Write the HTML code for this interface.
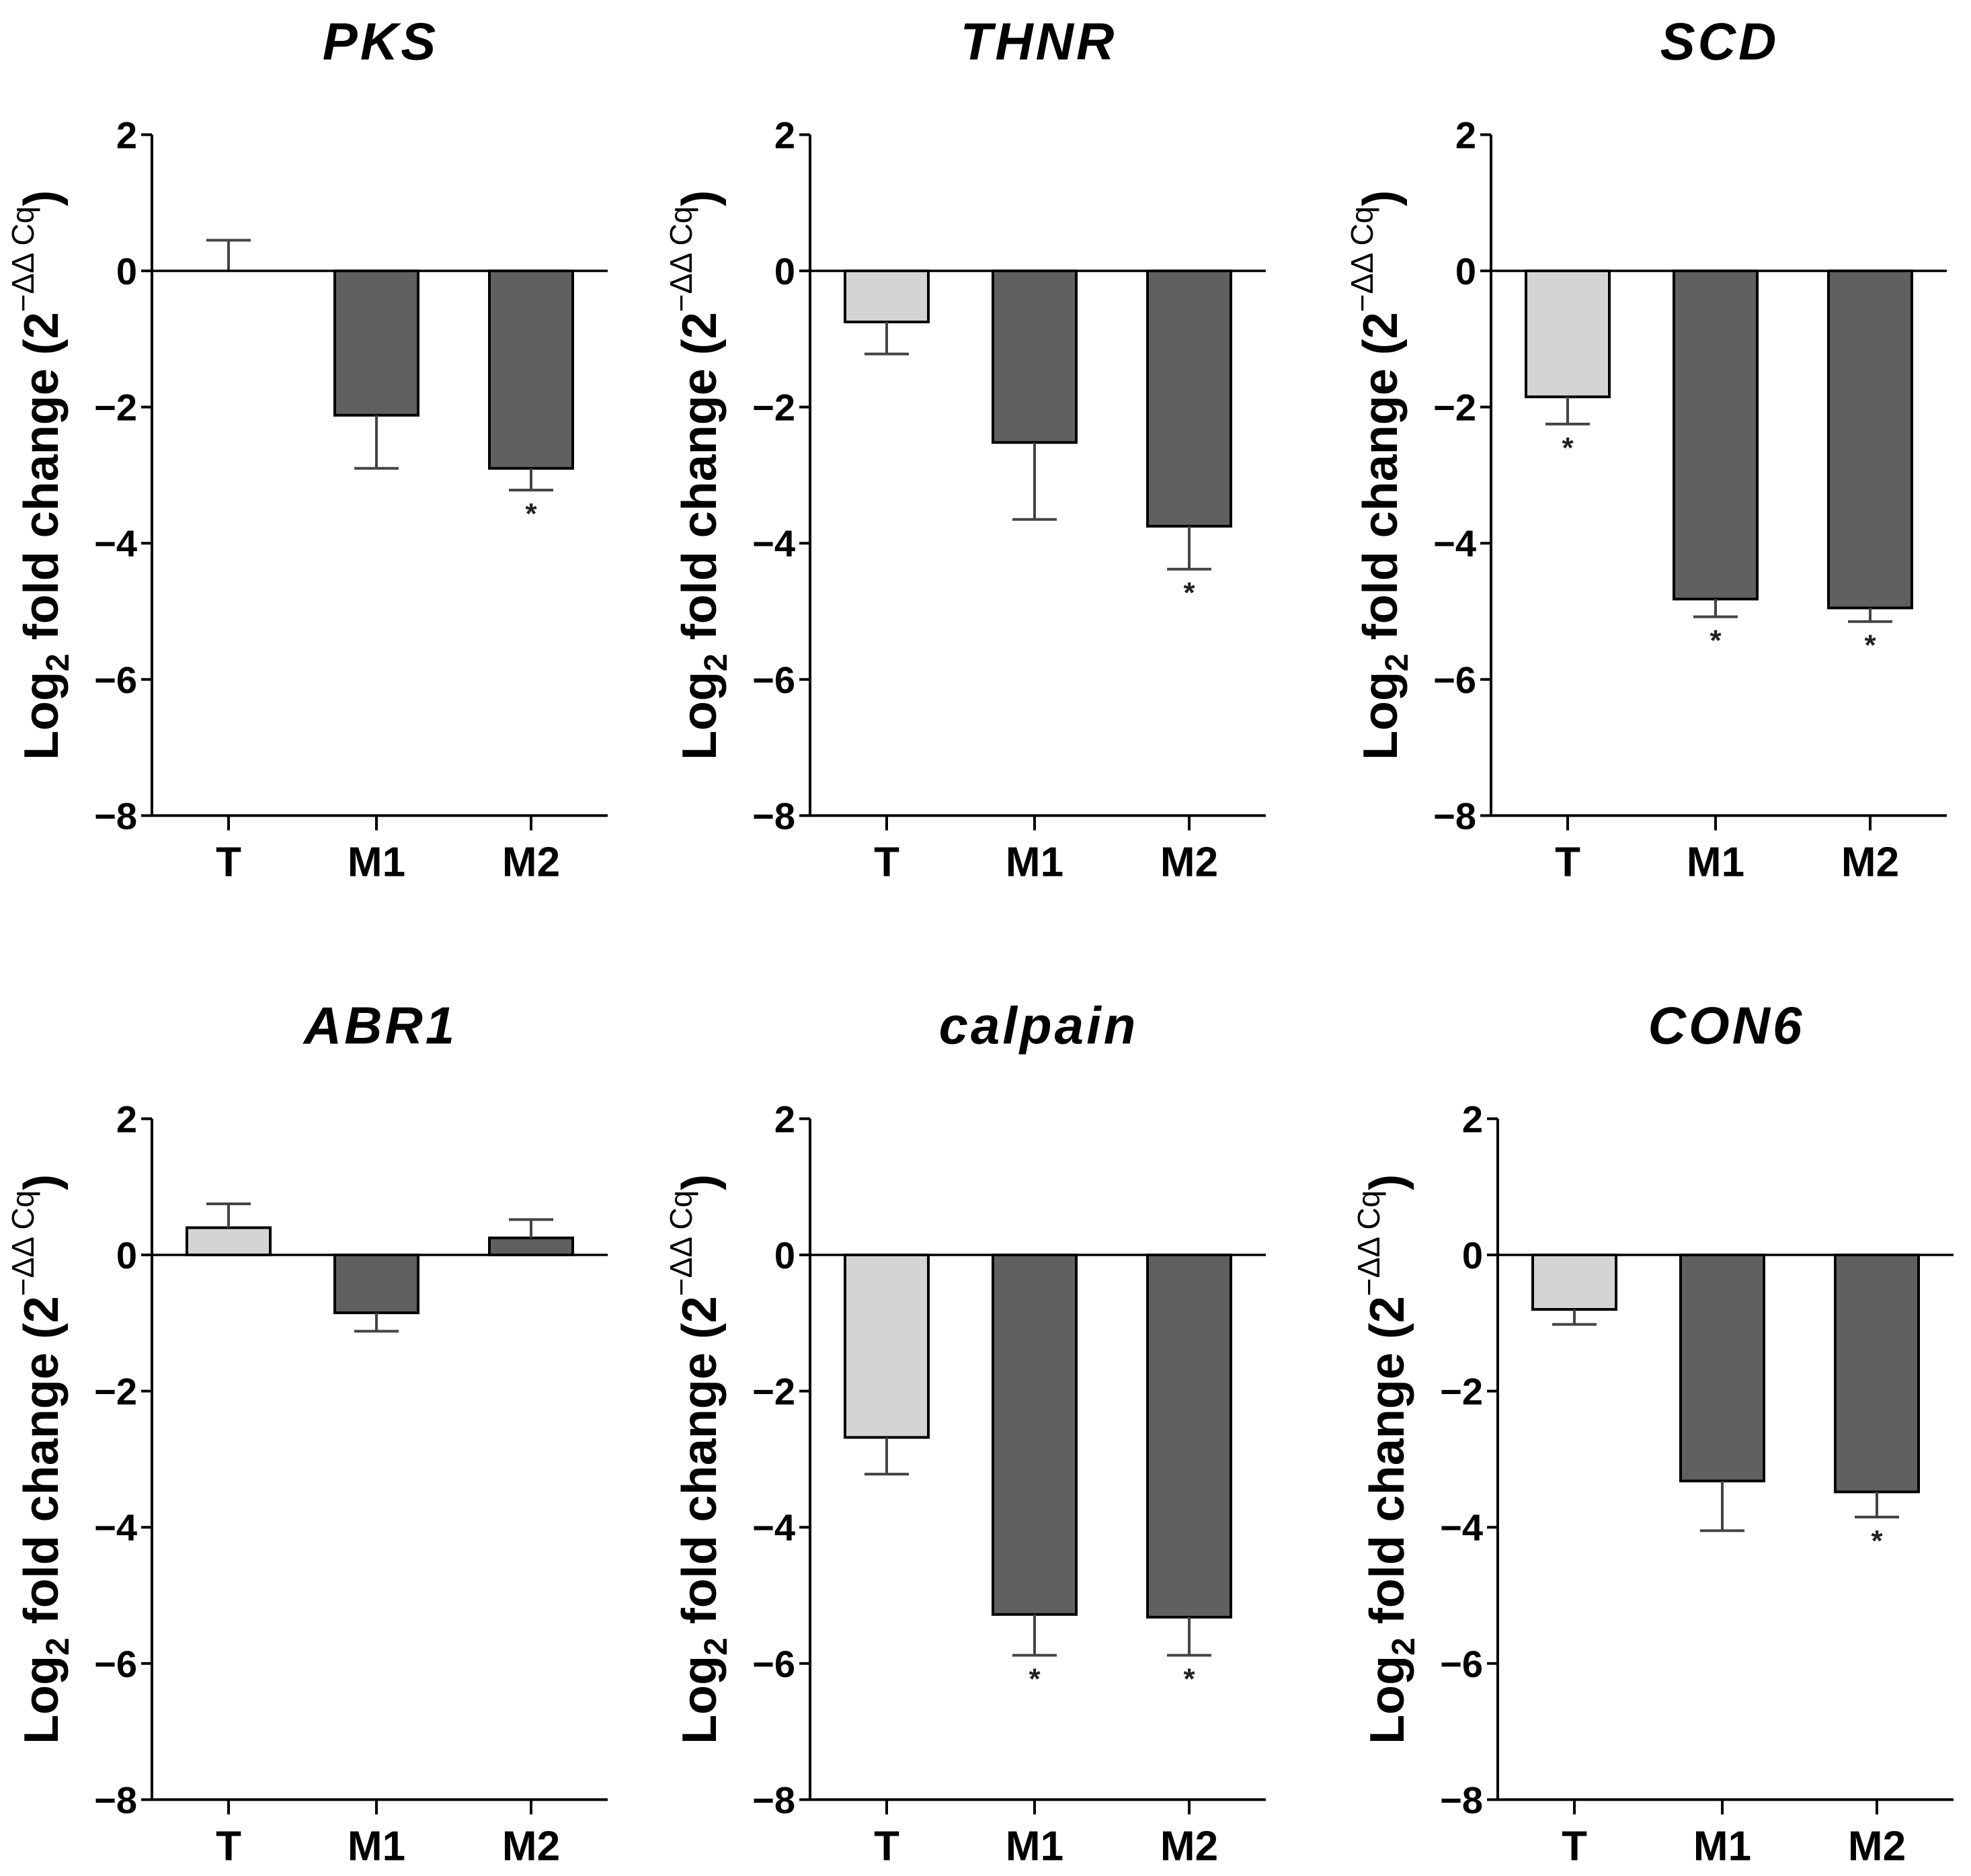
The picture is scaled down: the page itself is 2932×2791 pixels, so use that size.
<!DOCTYPE html>
<html><head><meta charset="utf-8">
<style>
html,body{margin:0;padding:0;background:#fff;}
svg{display:block;font-family:"Liberation Sans",Arial,sans-serif;}
</style></head>
<body>
<svg id="fig" width="2932" height="2791" viewBox="0 0 2932 2791" xmlns="http://www.w3.org/2000/svg"></svg>
<script>
const genes = ["PKS","THNR","SCD","ABR1","calpain","CON6"];
const categories = ["T","M1","M2"];
const means = [
  [0, -2.12, -2.9],
  [-0.75, -2.52, -3.75],
  [-1.85, -4.82, -4.95],
  [0.4, -0.85, 0.25],
  [-2.68, -5.28, -5.32],
  [-0.8, -3.32, -3.48]
];
const errs = [
  [0.45, 0.78, 0.32],
  [0.47, 1.13, 0.63],
  [0.4, 0.26, 0.2],
  [0.35, 0.27, 0.27],
  [0.54, 0.6, 0.56],
  [0.22, 0.73, 0.37]
];
const signif = [
  [false,false,true],
  [false,false,true],
  [true,true,true],
  [false,false,false],
  [false,true,true],
  [false,false,true]
];
const yTicks = [2,0,-2,-4,-6,-8];

const NS = "http://www.w3.org/2000/svg";
const svg = document.getElementById("fig");
function mk(tag, attrs, parent){
  const e = document.createElementNS(NS, tag);
  for (const k in attrs) e.setAttribute(k, attrs[k]);
  (parent||svg).appendChild(e);
  return e;
}
const axisX = [226,1205,2218,226,1205,2228];
const zeroY = [403,403,403,1867,1867,1867];
const unit = 101.3;
const catOff = [114,334,564];
const axisLen = 678;
const barW = 124;
const capW = 66;

genes.forEach((g, p) => {
  const ax = axisX[p], y0 = zeroY[p];
  const yS = v => y0 - v*unit;
  const xS = i => ax + catOff[i];
  const grp = mk("g", {});
  
  
  const t = mk("text", {x: ax+340, y: yS(2)-112, "text-anchor":"middle", "font-size":78, "font-weight":"bold", "font-style":"italic", fill:"#000", "letter-spacing":4}, grp);
  t.textContent = g;
  
  
  const lx = ax - 140, ly = (yS(2)+yS(-8))/2;
  const yl = mk("text", {x: lx, y: ly, transform:`rotate(-90 ${lx} ${ly})`, "text-anchor":"middle", "font-size":72, "font-weight":"bold", fill:"#000"}, grp);
  yl.innerHTML = 'Log<tspan font-size="48" dy="16">2</tspan><tspan dy="-16"> fold change (2</tspan><tspan font-size="46" font-weight="normal" dy="-36">−ΔΔ Cq</tspan><tspan dy="36">)</tspan>';
  
  
  categories.forEach((c, i) => {
    const v = means[p][i], e = errs[p][i];
    const cx = xS(i);
    const top = Math.min(yS(v), yS(0)), h = Math.abs(yS(v)-yS(0));
    if (h > 1) {
      const b = mk("rect", {x: cx-barW/2, y: top, width: barW, height: h, fill: i===0?"#d4d4d4":"#606060", stroke:"#000", "stroke-width":4}, grp);
      
      
    }
    const dir = v < 0 ? -1 : 1;
    const ye = yS(v + dir*e);
    const eb = mk("path", {d:`M${cx} ${yS(v)} V${ye} M${cx-capW/2} ${ye} H${cx+capW/2}`, stroke:"#444", "stroke-width":4, fill:"none"}, grp);
    
    
    if (signif[p][i]) {
      const s = mk("text", {x: cx, y: ye+50, "text-anchor":"middle", "font-size":44, "font-weight":"bold", fill:"#222"}, grp);
      s.textContent = "*";
      
      
    }
    mk("line", {x1:cx, x2:cx, y1:yS(-8), y2:yS(-8)+22, stroke:"#000", "stroke-width":4}, grp);
    const lab = mk("text", {x: cx, y: yS(-8)+90, "text-anchor":"middle", "font-size":62, "font-weight":"bold", fill:"#000"}, grp);
    lab.textContent = c;
    
    
  });
  const ya = mk("line", {x1:ax, x2:ax, y1:yS(2), y2:yS(-8), stroke:"#000", "stroke-width":4}, grp);
  
  
  const xa = mk("line", {x1:ax, x2:ax+axisLen, y1:yS(-8), y2:yS(-8), stroke:"#000", "stroke-width":4}, grp);
  
  
  const zl = mk("line", {x1:ax, x2:ax+axisLen, y1:yS(0), y2:yS(0), stroke:"#000", "stroke-width":3.5}, grp);
  
  
  yTicks.forEach(v => {
    mk("line", {x1:ax-16, x2:ax, y1:yS(v), y2:yS(v), stroke:"#000", "stroke-width":4}, grp);
    const tl = mk("text", {x: ax-22, y: yS(v)+20, "text-anchor":"end", "font-size":56, "font-weight":"bold", fill:"#000"}, grp);
    tl.textContent = v < 0 ? "−" + Math.abs(v) : String(v);
    
    
  });
});
</script>
</body></html>
